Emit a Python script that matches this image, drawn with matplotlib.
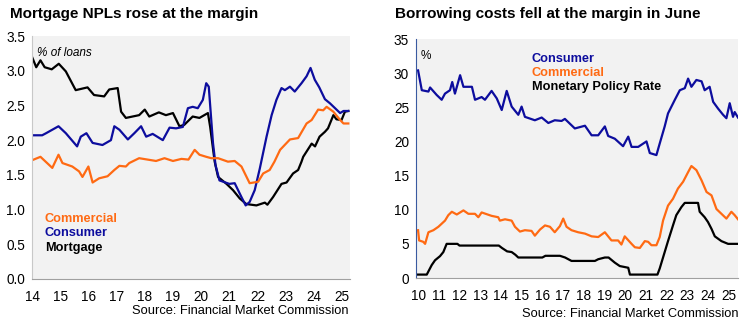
import numpy as np
import matplotlib
matplotlib.use('Agg')
import matplotlib.pyplot as plt

plt.rcParams['font.family'] = ['Liberation Sans', 'DejaVu Sans']

#%% Data: left panel, NPL ratios (% of loans)
mort_x = [2014.0, 2014.15, 2014.3, 2014.45, 2014.7, 2014.95, 2015.2, 2015.55, 2015.97, 2016.2,
          2016.56, 2016.74, 2017.04, 2017.16, 2017.33, 2017.8, 2018.0, 2018.16, 2018.5, 2018.75,
          2019.0, 2019.23, 2019.4, 2019.7, 2019.94, 2020.24, 2020.32, 2020.48, 2020.6, 2020.9,
          2021.13, 2021.37, 2021.6, 2021.96, 2022.26, 2022.35, 2022.55, 2022.85, 2023.03, 2023.26,
          2023.44, 2023.56, 2023.62, 2023.92, 2024.04, 2024.2, 2024.39, 2024.5, 2024.69, 2024.8,
          2024.98, 2025.1, 2025.22]
mort_y = [3.2, 3.05, 3.15, 3.05, 3.02, 3.1, 2.99, 2.72, 2.76, 2.65,
          2.63, 2.73, 2.75, 2.41, 2.32, 2.36, 2.44, 2.34, 2.4, 2.36,
          2.39, 2.2, 2.22, 2.34, 2.32, 2.39, 2.19, 1.69, 1.47, 1.37,
          1.28, 1.16, 1.08, 1.06, 1.1, 1.07, 1.18, 1.37, 1.39, 1.52,
          1.57, 1.69, 1.76, 1.95, 1.91, 2.05, 2.12, 2.17, 2.36, 2.3,
          2.29, 2.41, 2.42]

cons_x = [2014.0, 2014.36, 2014.5, 2014.94, 2015.2, 2015.6, 2015.73, 2015.93, 2016.15, 2016.5,
          2016.8, 2016.92, 2017.1, 2017.4, 2017.63, 2017.87, 2018.05, 2018.28, 2018.64, 2018.88,
          2019.11, 2019.35, 2019.53, 2019.7, 2019.88, 2020.06, 2020.18, 2020.27, 2020.42, 2020.51,
          2020.65, 2021.0, 2021.19, 2021.43, 2021.58, 2021.72, 2021.9, 2022.08, 2022.32, 2022.5,
          2022.67, 2022.85, 2022.97, 2023.15, 2023.32, 2023.56, 2023.74, 2023.88, 2024.03, 2024.19,
          2024.39, 2024.57, 2024.75, 2024.93, 2025.05, 2025.22]
cons_y = [2.07, 2.07, 2.1, 2.2, 2.1, 1.91, 2.05, 2.1, 1.96, 1.93,
          2.0, 2.2, 2.15, 2.01, 2.1, 2.2, 2.05, 2.09, 2.0, 2.18,
          2.17, 2.19, 2.46, 2.48, 2.46, 2.58, 2.82, 2.77, 1.96, 1.64,
          1.42, 1.37, 1.38, 1.18, 1.06, 1.11, 1.28, 1.59, 2.05, 2.36,
          2.58, 2.75, 2.72, 2.77, 2.7, 2.82, 2.92, 3.04, 2.87, 2.76,
          2.59, 2.53, 2.46, 2.39, 2.42, 2.42]

comm_x = [2014.0, 2014.3, 2014.72, 2014.94, 2015.08, 2015.43, 2015.67, 2015.79, 2016.0, 2016.15,
          2016.38, 2016.68, 2016.92, 2017.1, 2017.33, 2017.45, 2017.8, 2018.1, 2018.4, 2018.7,
          2019.0, 2019.3, 2019.55, 2019.77, 2019.94, 2020.18, 2020.36, 2020.6, 2020.95, 2021.19,
          2021.43, 2021.72, 2022.02, 2022.2, 2022.43, 2022.6, 2022.8, 2023.15, 2023.44, 2023.74,
          2023.92, 2024.15, 2024.33, 2024.45, 2024.69, 2024.93, 2025.05, 2025.22]
comm_y = [1.71, 1.76, 1.6, 1.79, 1.67, 1.62, 1.55, 1.47, 1.62, 1.39,
          1.45, 1.48, 1.57, 1.63, 1.62, 1.67, 1.74, 1.72, 1.7, 1.74,
          1.7, 1.73, 1.72, 1.86, 1.79, 1.76, 1.74, 1.74, 1.69, 1.7,
          1.62, 1.38, 1.4, 1.52, 1.57, 1.69, 1.86, 2.01, 2.03, 2.24,
          2.29, 2.44, 2.43, 2.48, 2.41, 2.29, 2.24, 2.24]

left_ticks = list(range(2014, 2026))
left_labels = [str(y % 100) for y in left_ticks]

#%% Data: right panel, borrowing costs (%)
rc_x = [2010.0, 2010.18, 2010.5, 2010.58, 2010.9, 2011.14, 2011.3, 2011.54, 2011.65, 2011.78,
        2012.03, 2012.19, 2012.6, 2012.75, 2013.07, 2013.23, 2013.55, 2013.8, 2014.04, 2014.28,
        2014.52, 2014.84, 2015.0, 2015.16, 2015.64, 2015.97, 2016.29, 2016.6, 2016.93, 2017.09,
        2017.57, 2018.06, 2018.38, 2018.7, 2019.02, 2019.18, 2019.5, 2019.9, 2020.15, 2020.31,
        2020.63, 2021.03, 2021.19, 2021.51, 2021.67, 2021.91, 2022.07, 2022.4, 2022.64, 2022.88,
        2023.04, 2023.2, 2023.44, 2023.69, 2023.84, 2024.08, 2024.25, 2024.49, 2024.73, 2024.89,
        2025.05, 2025.21, 2025.29, 2025.45]
rc_y = [30.4, 27.5, 27.3, 27.9, 26.8, 26.1, 27.0, 27.5, 28.7, 27.0,
        29.7, 28.0, 28.0, 26.1, 26.5, 26.1, 27.4, 26.3, 24.6, 27.4,
        25.1, 23.9, 25.1, 23.6, 23.1, 23.5, 22.7, 23.1, 23.0, 23.3,
        21.9, 22.3, 20.9, 20.9, 22.2, 20.8, 20.4, 19.3, 20.7, 19.2,
        19.2, 20.0, 18.3, 18.0, 19.7, 22.2, 24.1, 26.1, 27.5, 27.8,
        29.2, 28.0, 29.0, 28.8, 27.5, 28.0, 25.8, 24.8, 23.9, 23.4,
        25.6, 23.6, 24.3, 23.5]

rm_x = [2010.0, 2010.05, 2010.25, 2010.34, 2010.5, 2010.74, 2010.98, 2011.3, 2011.46, 2011.63,
        2011.87, 2012.19, 2012.43, 2012.75, 2012.91, 2013.07, 2013.55, 2013.87, 2013.95, 2014.2,
        2014.52, 2014.68, 2014.92, 2015.16, 2015.48, 2015.64, 2015.89, 2016.13, 2016.37, 2016.6,
        2016.85, 2017.01, 2017.17, 2017.41, 2017.73, 2018.06, 2018.38, 2018.7, 2019.02, 2019.34,
        2019.66, 2019.82, 2019.98, 2020.31, 2020.47, 2020.71, 2020.95, 2021.11, 2021.27, 2021.51,
        2021.67, 2021.83, 2022.07, 2022.31, 2022.55, 2022.8, 2023.04, 2023.2, 2023.44, 2023.69,
        2023.93, 2024.17, 2024.41, 2024.65, 2024.89, 2025.13, 2025.29, 2025.45]
rm_y = [7.0, 5.5, 5.3, 5.0, 6.7, 7.0, 7.5, 8.4, 9.2, 9.7,
        9.3, 9.9, 9.4, 9.4, 8.9, 9.6, 9.1, 8.9, 8.4, 8.6,
        8.4, 7.5, 6.8, 7.0, 6.9, 6.2, 7.1, 7.7, 7.5, 6.7,
        7.6, 8.7, 7.5, 7.0, 6.7, 6.5, 6.1, 6.0, 6.7, 5.5,
        5.5, 4.9, 6.1, 5.0, 4.5, 4.4, 5.4, 5.3, 4.8, 4.8,
        6.0, 8.4, 10.6, 11.6, 13.1, 14.1, 15.5, 16.4, 15.8, 14.3,
        12.6, 12.1, 10.1, 9.4, 8.7, 9.7, 9.2, 8.6]

mpr_x = [2010.0, 2010.42, 2010.66, 2010.82, 2011.06, 2011.22, 2011.38, 2011.9, 2012.0, 2013.9,
         2014.05, 2014.3, 2014.52, 2014.7, 2014.84, 2016.0, 2016.15, 2016.85, 2017.1, 2017.41,
         2018.54, 2018.7, 2019.02, 2019.2, 2019.5, 2019.74, 2020.15, 2020.23, 2021.56, 2021.67,
         2021.91, 2022.07, 2022.31, 2022.47, 2022.72, 2022.88, 2023.52, 2023.6, 2023.84, 2024.0,
         2024.17, 2024.33, 2024.65, 2024.97, 2025.45]
mpr_y = [0.5, 0.5, 1.9, 2.6, 3.2, 3.8, 5.0, 5.0, 4.75, 4.75,
         4.4, 3.9, 3.8, 3.4, 3.0, 3.0, 3.25, 3.25, 3.0, 2.5,
         2.5, 2.75, 3.0, 3.0, 2.25, 1.75, 1.5, 0.5, 0.5, 1.4,
         3.8, 5.4, 7.7, 9.2, 10.4, 11.0, 11.0, 9.7, 8.9, 8.2,
         7.2, 6.1, 5.4, 5.0, 5.0]

right_ticks = list(range(2010, 2026))
right_labels = [str(y % 100) for y in right_ticks]

#%% Plot
BLUE = '#0d0d9e'
ORANGE = '#ff6a13'
BG = '#f2f2f2'

fig = plt.figure(figsize=(7.51, 3.24), dpi=100)
ax1 = fig.add_axes([32/751, 1 - 279/324, 318/751, 243/324])
ax2 = fig.add_axes([416/751, 1 - 278/324, 322/751, 239/324])

for ax in (ax1, ax2):
    ax.set_facecolor(BG)
    for s in ('top', 'right'):
        ax.spines[s].set_visible(False)
    ax.spines['bottom'].set_color('#a0a0a0')
    ax.tick_params(length=0, labelsize=9.8, colors='black')
    ax.tick_params(axis='x', pad=8)
    ax.tick_params(axis='y', pad=5)

ax1.spines['left'].set_color('#c8c8c8')
ax2.spines['left'].set_color('#3a5aa0')

ax1.plot(mort_x, mort_y, color='black', lw=1.6)
ax1.plot(cons_x, cons_y, color=BLUE, lw=1.6)
ax1.plot(comm_x, comm_y, color=ORANGE, lw=1.6)
ax1.set_xlim(2014, 2025.28)
ax1.set_ylim(0, 3.5)
ax1.set_yticks(np.arange(0, 3.51, 0.5))
ax1.set_yticklabels(['%.1f' % v for v in np.arange(0, 3.51, 0.5)])
ax1.set_xticks(left_ticks)
ax1.set_xticklabels(left_labels)
ax1.text(0.015, 0.955, '% of loans', transform=ax1.transAxes, style='italic', fontsize=8.5, va='top')
ax1.text(0.04, 0.235, 'Commercial', transform=ax1.transAxes, color=ORANGE, fontweight='bold', fontsize=9.2)
ax1.text(0.04, 0.175, 'Consumer', transform=ax1.transAxes, color=BLUE, fontweight='bold', fontsize=9.2)
ax1.text(0.04, 0.115, 'Mortgage', transform=ax1.transAxes, color='black', fontweight='bold', fontsize=9.2)

ax2.plot(rc_x, rc_y, color=BLUE, lw=1.6)
ax2.plot(rm_x, rm_y, color=ORANGE, lw=1.6)
ax2.plot(mpr_x, mpr_y, color='black', lw=1.6)
ax2.set_xlim(2009.9, 2025.45)
ax2.set_ylim(0, 35)
ax2.set_yticks(range(0, 36, 5))
ax2.set_xticks(right_ticks)
ax2.set_xticklabels(right_labels)
ax2.text(0.015, 0.955, '%', transform=ax2.transAxes, fontsize=8.5, va='top')
ax2.text(0.36, 0.905, 'Consumer', transform=ax2.transAxes, color=BLUE, fontweight='bold', fontsize=9.2)
ax2.text(0.36, 0.845, 'Commercial', transform=ax2.transAxes, color=ORANGE, fontweight='bold', fontsize=9.2)
ax2.text(0.36, 0.785, 'Monetary Policy Rate', transform=ax2.transAxes, color='black', fontweight='bold', fontsize=9.2)

fig.text(10/751, 1 - 14/324, 'Mortgage NPLs rose at the margin', fontweight='bold', fontsize=11, va='center')
fig.text(395/751, 1 - 14/324, 'Borrowing costs fell at the margin in June', fontweight='bold', fontsize=11, va='center')
fig.text(349/751, 1 - 311/324, 'Source: Financial Market Commission', ha='right', va='center', fontsize=9.3)
fig.text(738/751, 1 - 314/324, 'Source: Financial Market Commission', ha='right', va='center', fontsize=9.3)

fig.savefig('out.png', dpi=100)
